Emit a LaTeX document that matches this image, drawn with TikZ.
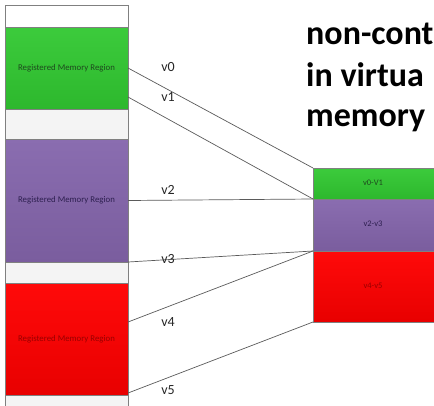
\documentclass[tikz,border=0pt]{standalone}
\usepackage{fontspec}
\setmainfont{Carlito}
\definecolor{rgreenT}{HTML}{3CCB3C}
\definecolor{rgreenB}{HTML}{2DB82D}
\definecolor{rpurpT}{HTML}{8A6DB0}
\definecolor{rpurpB}{HTML}{7A5D9E}
\definecolor{rredT}{HTML}{FF0A0A}
\definecolor{rredB}{HTML}{E80000}
\definecolor{gapgrey}{HTML}{F4F4F4}
\definecolor{edgegrey}{HTML}{808080}
\definecolor{linegrey}{HTML}{5A5A5A}
\definecolor{gtext}{HTML}{1E4A1E}
\definecolor{ptext}{HTML}{2E2050}
\definecolor{rtext}{HTML}{9A0000}
\begin{document}
\begin{tikzpicture}[x=1pt,y=-1pt,
  region/.style={draw=edgegrey,line width=0.6pt,inner sep=0pt,outer sep=0pt,
     minimum width=123pt,anchor=north west,font=\fontsize{8.8}{10}\selectfont},
  rbox/.style={draw=edgegrey,line width=0.6pt,inner sep=0pt,outer sep=0pt,
     minimum width=140pt,anchor=north west},
  smalllab/.style={font=\fontsize{8.5}{10}\selectfont,inner sep=0pt},
  vlab/.style={font=\fontsize{14}{16}\selectfont,text=black!85,inner sep=0pt},
  big/.style={font=\bfseries\fontsize{34}{38}\selectfont,anchor=base west,inner sep=0pt},
  conn/.style={draw=linegrey,line width=0.7pt}]
\useasboundingbox (0,0) rectangle (434,405);
\clip (0,0) rectangle (434,405);
% left column
\node[region,fill=gapgrey,minimum height=420pt] (col) at (5,5) {};
\node[region,fill=white,minimum height=22pt] (top) at (5,5) {};
\node[region,top color=rgreenT,bottom color=rgreenB,minimum height=82pt,text=gtext] (g) at (5,27) {Registered Memory Region};
\node[region,top color=rpurpT,bottom color=rpurpB,minimum height=123pt,text=ptext] (p) at (5,139) {Registered Memory Region};
\node[region,top color=rredT,bottom color=rredB,minimum height=112pt,text=rtext] (r) at (5,283) {Registered Memory Region};
% right boxes
\node[rbox,top color=rgreenT,bottom color=rgreenB,minimum height=31pt] (rg) at (313,168) {};
\node[rbox,top color=rpurpT,bottom color=rpurpB,minimum height=52pt] (rp) at (313,199) {};
\node[rbox,top color=rredT,bottom color=rredB,minimum height=71pt] (rr) at (313,251) {};
\node[smalllab,text=gtext] (rgl) at (373,183) {v0-V1};
\node[smalllab,text=ptext] (rpl) at (373,224) {v2-v3};
\node[smalllab,text=rtext] (rrl) at (373,286) {v4-v5};
% connector start points
\coordinate (s0) at (g.east);
\coordinate (s1) at (128,97);
\coordinate (s2) at (p.east);
\coordinate (s3) at (p.south east);
\coordinate (s4) at (128,322);
\coordinate (s5) at (128,393);
\draw[conn] (s0) -- (rg.north west);
\draw[conn] (s1) -- (rg.south west);
\draw[conn] (s2) -- (rg.south west);
\draw[conn] (s3) -- (rp.south west);
\draw[conn] (s4) -- (rp.south west);
\draw[conn] (s5) -- (rr.south west);
% labels
\node[vlab] (l0) at (168,67) {v0};
\node[vlab] (l1) at (168,97) {v1};
\node[vlab] (l2) at (168,190) {v2};
\node[vlab] (l3) at (168,259) {v3};
\node[vlab] (l4) at (168,322) {v4};
\node[vlab] (l5) at (168,390) {v5};
% big text
\node[big] (t1) at (306,44) {non-cont};
\node[big] (t2) at (306,86) {in virtua};
\node[big] (t3) at (306,126) {memory};
\end{tikzpicture}
\end{document}
